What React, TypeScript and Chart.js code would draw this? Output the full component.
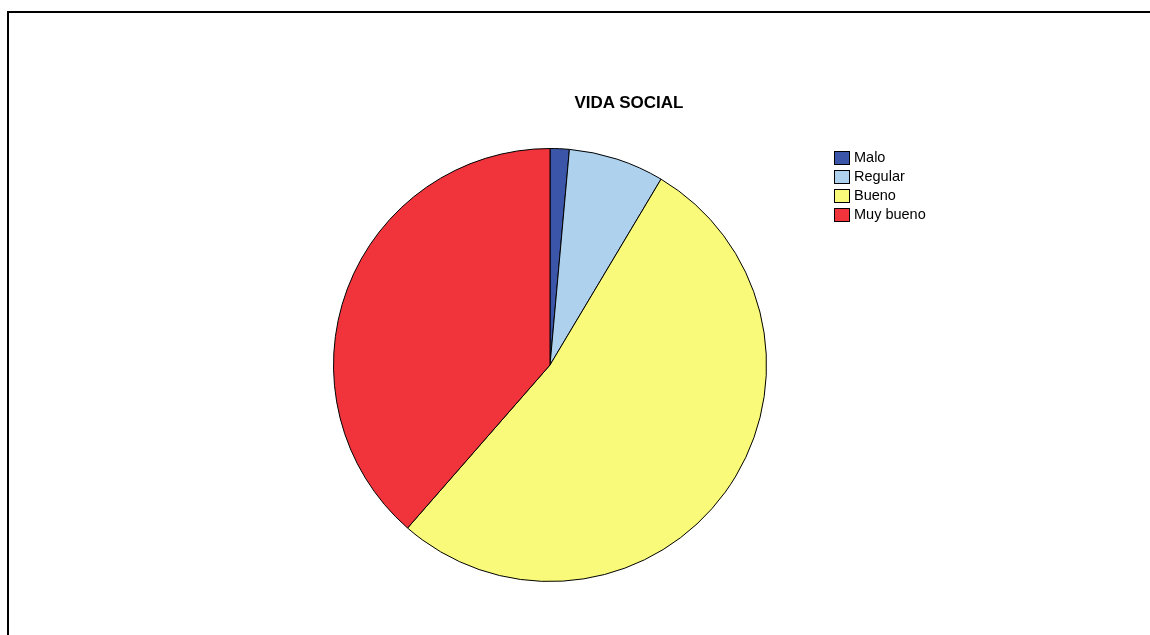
import React, { useEffect, useRef } from "react";
import { Chart, registerables } from "chart.js";

Chart.register(...registerables);

const title = "VIDA SOCIAL";
const categories = ["Malo", "Regular", "Bueno", "Muy bueno"];
const counts = [1, 5, 37, 27];
const colors = ["#3b56a8", "#aed1ee", "#f9f97a", "#f1333b"];

export default function App() {
  const ref = useRef<HTMLCanvasElement | null>(null);

  useEffect(() => {
    if (!ref.current) return;
    const chart = new Chart(ref.current, {
      type: "pie",
      data: {
        labels: categories,
        datasets: [
          {
            data: counts,
            backgroundColor: colors,
            borderColor: "#000000",
            borderWidth: 1,
          },
        ],
      },
      options: {
        responsive: false,
        animation: false,
        layout: { padding: { left: 333, right: 383, top: 148, bottom: 53 } },
        plugins: {
          legend: { display: false },
          title: { display: false },
          tooltip: { enabled: false },
        },
      },
    });
    return () => chart.destroy();
  }, []);

  const font = "Arial, 'Liberation Sans', sans-serif";

  return (
    <div style={{ position: "absolute", left: 0, top: 0, width: 1150, height: 635, background: "#fff", overflow: "hidden" }}>
      <div style={{ position: "absolute", left: 7, top: 11, width: 1200, height: 700, borderLeft: "2px solid #000", borderTop: "2px solid #000" }} />
      <canvas ref={ref} width={1150} height={635} style={{ position: "absolute", left: 0, top: 0 }} />
      <div style={{ position: "absolute", left: 529, top: 93, width: 200, textAlign: "center", fontFamily: font, fontWeight: "bold", fontSize: 17, lineHeight: "20px", color: "#000" }}>
        {title}
      </div>
      <div style={{ position: "absolute", left: 834, top: 148, fontFamily: font, fontSize: 14.5, color: "#000" }}>
        {categories.map((c, i) => (
          <div key={c} style={{ display: "flex", alignItems: "center", height: 19 }}>
            <span style={{ display: "inline-block", width: 16, height: 14, background: colors[i], border: "1px solid #000", marginRight: 4, boxSizing: "border-box" }} />
            <span style={{ lineHeight: "19px" }}>{c}</span>
          </div>
        ))}
      </div>
    </div>
  );
}
